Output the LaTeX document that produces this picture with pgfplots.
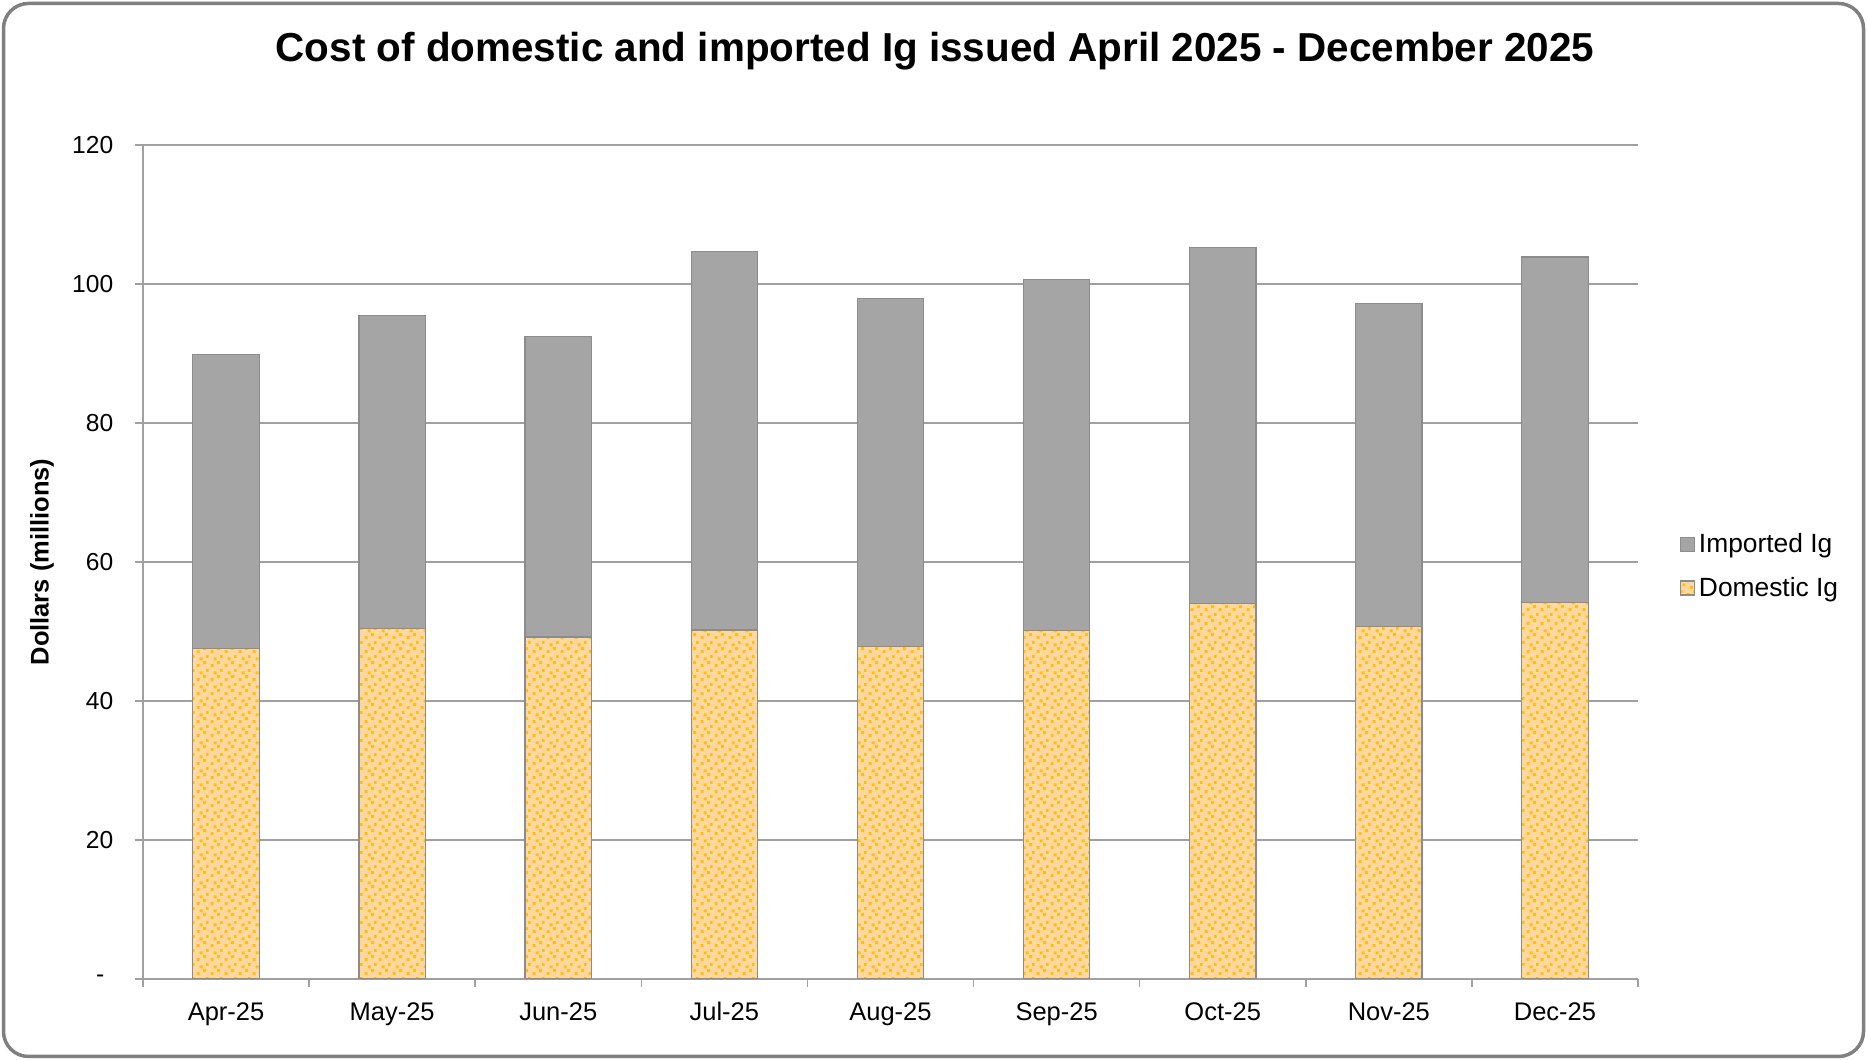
\documentclass[border=0pt]{standalone}
\usepackage{pgfplots}
\pgfplotsset{compat=1.18}
\usetikzlibrary{patterns}
\usepackage{fontspec}
\setmainfont{Liberation Sans}

\definecolor{impgray}{RGB}{165,165,165}
\definecolor{edgegray}{RGB}{140,140,140}
\definecolor{gridgray}{RGB}{160,160,160}
\definecolor{dompeach}{RGB}{255,216,160}
\definecolor{domdot}{RGB}{255,190,20}
\definecolor{framegray}{RGB}{128,128,128}

% staggered small squares, like the dotted fill of the domestic bars
\pgfdeclarepatternformonly{domdots}{\pgfpointorigin}{\pgfqpoint{8pt}{8pt}}{\pgfqpoint{8pt}{8pt}}{
    \pgfpathrectangle{\pgfqpoint{0.4pt}{0.5pt}}{\pgfqpoint{1.8pt}{1.8pt}}
    \pgfpathrectangle{\pgfqpoint{4.4pt}{2.3pt}}{\pgfqpoint{1.8pt}{1.8pt}}
    \pgfpathrectangle{\pgfqpoint{2.2pt}{4.6pt}}{\pgfqpoint{1.8pt}{1.8pt}}
    \pgfpathrectangle{\pgfqpoint{6.1pt}{6.2pt}}{\pgfqpoint{1.6pt}{1.6pt}}
    \pgfusepath{fill}
}

\begin{document}
\begin{tikzpicture}
\useasboundingbox (0,0) rectangle (37.34,21.2);
\draw[framegray, line width=0.7mm, rounded corners=0.5cm] (0.07,0.07) rectangle (37.27,21.13);

\begin{axis}[
    at={(2.86cm,1.62cm)}, anchor=south west,
    scale only axis,
    width=29.9cm, height=16.68cm,
    ybar stacked,
    bar width=0.4,
    xmin=-0.5, xmax=8.5,
    ymin=0, ymax=120,
    xtick={-0.5,0.5,...,8.5},
    x tick label as interval,
    xticklabels={Apr-25,May-25,Jun-25,Jul-25,Aug-25,Sep-25,Oct-25,Nov-25,Dec-25},
    ytick={0,20,...,120},
    yticklabels={-\kern0.18cm,20,40,60,80,100,120},
    /pgf/number format/assume math mode=true,
    tick label style={black},
    xticklabel style={font=\fontsize{14.5}{16}\selectfont, yshift=-0.24cm, text height=1.6ex, text depth=0.45ex},
    yticklabel style={font=\fontsize{14}{16}\selectfont, xshift=-0.31cm},
    tick align=outside,
    major tick length=0.16cm,
    tick style={gridgray, line width=0.3mm},
    xtick pos=bottom, ytick pos=left,
    ymajorgrids=true,
    grid style={gridgray, line width=0.3mm},
    axis x line*=bottom,
    axis y line*=left,
    axis line style={gridgray, line width=0.3mm, -},
    title={Cost of domestic and imported Ig issued April 2025 - December 2025},
    every axis title/.style={at={(axis description cs:0.5,1)}, anchor=center, xshift=0.89cm, yshift=1.88cm, font=\fontsize{23}{27}\selectfont\bfseries},
    ylabel={Dollars (millions)},
    every axis y label/.style={at={(axis description cs:0,0.5)}, rotate=90, anchor=center, yshift=2.02cm, font=\fontsize{14.5}{17}\selectfont\bfseries},
    legend style={at={(1.028,0.495)}, anchor=west, draw=none, fill=none, font=\fontsize{15}{17}\selectfont, row sep=0.3cm, inner xsep=0pt},
    legend cell align=left,
    reverse legend,
    legend image code/.code={\draw[#1] (0cm,-0.14cm) rectangle (0.28cm,0.14cm);},
]
\addplot[fill=dompeach, draw=edgegray, line width=0.25mm,
    postaction={pattern=domdots, pattern color=domdot}]
    coordinates {(0,47.5)(1,50.4)(2,49.2)(3,50.2)(4,47.8)(5,50.1)(6,54.0)(7,50.7)(8,54.2)};
\addplot[fill=impgray, draw=edgegray, line width=0.25mm]
    coordinates {(0,42.3)(1,45.1)(2,43.2)(3,54.5)(4,50.1)(5,50.5)(6,51.3)(7,46.5)(8,49.7)};
\legend{Domestic Ig, Imported Ig}
\end{axis}
\end{tikzpicture}
\end{document}
